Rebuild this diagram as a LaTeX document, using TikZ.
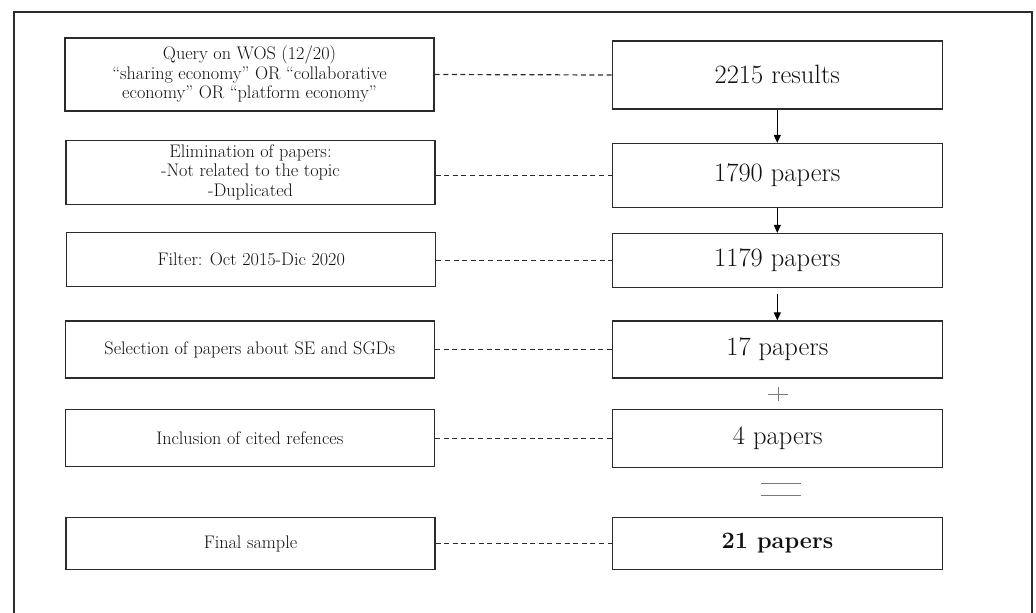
\documentclass[tikz,border=0pt]{standalone}
\usetikzlibrary{arrows.meta}
\newcommand{\lfsize}{\fontsize{18.2}{19.5}\selectfont}
\newcommand{\rfsize}{\fontsize{26.5}{28}\selectfont}
\newcommand{\bfsize}{\fontsize{23.5}{26}\selectfont}
\definecolor{linec}{HTML}{2B2B2B}
\definecolor{textc}{HTML}{111111}
\definecolor{symc}{HTML}{7A7A7A}
\begin{document}
\begin{tikzpicture}[x=1pt,y=-1pt,
  frame/.style={draw=linec, line width=1.4pt},
  box/.style={draw=linec, line width=1.3pt, rectangle, inner sep=0pt, align=center, text=textc},
  lbox/.style={box, minimum width=369pt, font=\lfsize},
  rbox/.style={box, minimum width=330pt, font=\rfsize},
  link/.style={draw=linec, line width=1.2pt, dash pattern=on 5pt off 3.6pt},
  flow/.style={draw=black, line width=0.9pt, -{Triangle[width=7pt,length=8pt]}},
  sym/.style={draw=symc, line width=0.9pt}]
\useasboundingbox (0,0) rectangle (1036,613);
\draw[frame] (14,614) -- (14,12) -- (1032,12) -- (1032,614);

\node[lbox, minimum height=73pt] (l1) at (249.5,74.5) {Query on WOS (12/20)\\\textquotedblleft sharing economy\textquotedblright{} OR \textquotedblleft collaborative\\economy\textquotedblright{} OR \textquotedblleft platform economy\textquotedblright};
\node[rbox, minimum height=68pt] (r1) at (777.3,75) {2215 results};
\node[lbox, minimum height=64pt] (l2) at (250.5,172.3) {Elimination of papers:\\-Not related to the topic\\-Duplicated};
\node[rbox, minimum height=64pt] (r2) at (777.3,175.5) {1790 papers};
\node[lbox, minimum height=54pt] (l3) at (251.3,259.7) {Filter: Oct 2015-Dic 2020};
\node[rbox, minimum height=54pt] (r3) at (777.3,260.5) {1179 papers};
\node[lbox, minimum height=57pt] (l4) at (249.8,349.5) {Selection of papers about SE and SGDs};
\node[rbox, minimum height=57pt] (r4) at (777.3,349.5) {17 papers};
\node[lbox, minimum height=57pt] (l5) at (249.8,438.3) {Inclusion of cited refences};
\node[rbox, minimum height=58pt] (r5) at (777.8,438.2) {4 papers};
\node[lbox, minimum height=52pt] (l6) at (250.5,543.5) {Final sample};
\node[rbox, minimum height=52pt, font=\bfsize] (r6) at (777.5,543.5) {\textbf{21 papers}};

\draw[link] (l1.east) -- (r1.west);
\draw[link] (r2.west -| l2.east) -- (r2.west);
\draw[link] (r3.west -| l3.east) -- (r3.west);
\draw[link] (l4.east) -- (r4.west);
\draw[link] (r5.west -| l5.east) -- (r5.west);
\draw[link] (l6.east) -- (r6.west);

\draw[flow] (r1.south) -- (r2.north);
\draw[flow] (r2.south) -- (r3.north);
\draw[flow, shorten <=5.5pt] (r3.south) -- (r4.north);

\coordinate (plus) at (778,394);
\draw[sym] ([xshift=-10pt]plus) -- ([xshift=10pt]plus);
\draw[sym] ([yshift=-7pt]plus) -- ([yshift=7pt]plus);
\coordinate (eq) at (781.3,489.5);
\draw[sym] ([shift={(-20pt,-6.2pt)}]eq) -- ([shift={(20pt,-6.2pt)}]eq);
\draw[sym] ([shift={(-20pt,6.2pt)}]eq) -- ([shift={(20pt,6.2pt)}]eq);
\end{tikzpicture}
\end{document}
